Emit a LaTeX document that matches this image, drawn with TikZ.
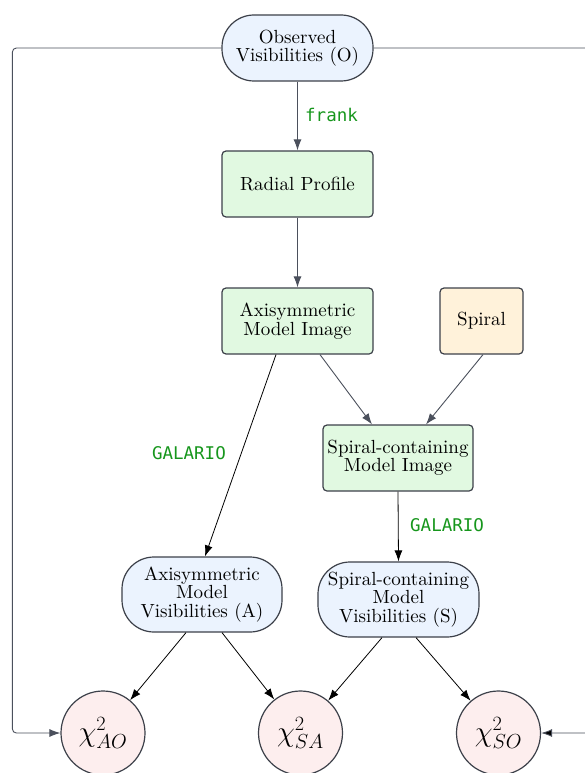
\RequirePackage{fix-cm}
\documentclass[tikz,border=0pt]{standalone}
\usepackage{fontspec}
\setmainfont{lmroman10-regular}[Extension=.otf]
\newfontfamily\codefont{DejaVu Sans Mono}
\usetikzlibrary{arrows.meta,calc}
\definecolor{bordc}{HTML}{3C4049}
\definecolor{arrg}{HTML}{4B505C}
\definecolor{fillblue}{HTML}{EBF3FE}
\definecolor{fillgreen}{HTML}{E1F9E1}
\definecolor{fillspiral}{HTML}{FFF2DA}
\definecolor{fillchi}{HTML}{FDEEEE}
\definecolor{labgreen}{HTML}{16961C}
\begin{document}
\begin{tikzpicture}[x=1pt,y=-1pt,
  basenode/.style={draw=bordc,line width=1.2pt,align=center,inner sep=0pt,
    font=\fontsize{19}{18.5}\selectfont},
  rectbox/.style={basenode,rounded corners=4pt,minimum width=151pt,minimum height=66pt},
  stadium/.style={basenode,rounded corners=32pt,fill=fillblue,minimum height=66pt},
  chinode/.style={draw=bordc,line width=1.2pt,circle,fill=fillchi,minimum size=84pt,inner sep=0pt,
    font=\fontsize{29}{34}\selectfont},
  garr/.style={draw=arrg,line width=0.9pt,-{Latex[length=11pt,width=8pt]}},
  barr/.style={draw=black,line width=0.8pt,-{Latex[length=11pt,width=8pt]}},
  codelab/.style={text=labgreen,font=\codefont\fontsize{17.5}{20}\selectfont,inner sep=0pt}
]
\useasboundingbox (0,0) rectangle (585,773);

\node[stadium,minimum width=151pt] (O) at (297.5,48) {Observed\\Visibilities (O)};
\node[rectbox,fill=fillgreen] (R) at (297.5,184) {Radial Profile};
\node[rectbox,fill=fillgreen] (AMI) at (297.5,321) {Axisymmetric\\Model Image};
\node[rectbox,fill=fillspiral,minimum width=83pt] (SP) at (481.5,321) {Spiral};
\node[rectbox,fill=fillgreen,minimum width=150pt] (SCMI) at (398,458) {Spiral-containing\\Model Image};
\node[stadium,minimum width=160pt,minimum height=75pt] (A) at (202,594.5) {Axisymmetric\\Model\\Visibilities (A)};
\node[stadium,minimum width=161pt,minimum height=75pt] (S) at (398.5,599.5) {Spiral-containing\\Model\\Visibilities (S)};
\node[chinode] (cAO) at (103,733) {$\chi^2_{AO}$};
\node[chinode] (cSA) at (300.5,733) {$\chi^2_{SA}$};
\node[chinode] (cSO) at (498.5,733) {$\chi^2_{SO}$};

\draw[garr] (O.south) -- (R.north);
\node[codelab,anchor=west] (lfrank) at (305,115) {frank};
\draw[garr] (R.south) -- (AMI.north);
\draw[barr] ($(AMI.south)+(-21.5,0)$) -- ($(A.north)+(3,0)$);
\node[codelab,anchor=east] (lgal1) at (226,453) {GALARIO};
\draw[garr] ($(AMI.south)+(22.5,0)$) -- ($(SCMI.north)+(-26,0)$);
\draw[garr] ($(SP.south)+(1.5,0)$) -- ($(SCMI.north)+(28,0)$);
\draw[barr] (SCMI.south) -- (S.north);
\node[codelab,anchor=west] (lgal2) at (410,525) {GALARIO};
\draw[barr] ($(A.south)+(-16,0)$) -- (cAO);
\draw[barr] ($(A.south)+(20,0)$) -- (cSA);
\draw[barr] ($(S.south)+(-16.5,0)$) -- (cSA);
\draw[barr] ($(S.south)+(17.5,0)$) -- (cSO);

\draw[garr,rounded corners=4pt] (O.west) -| ($(cAO.west)+(-48,0)$) -- (cAO.west);
\draw[garr,rounded corners=4pt,-{Latex[length=11pt,width=8pt,fill=black]}] (O.east) -| ($(cSO.east)+(70,0)$) -- (cSO.east);
\end{tikzpicture}
\end{document}
